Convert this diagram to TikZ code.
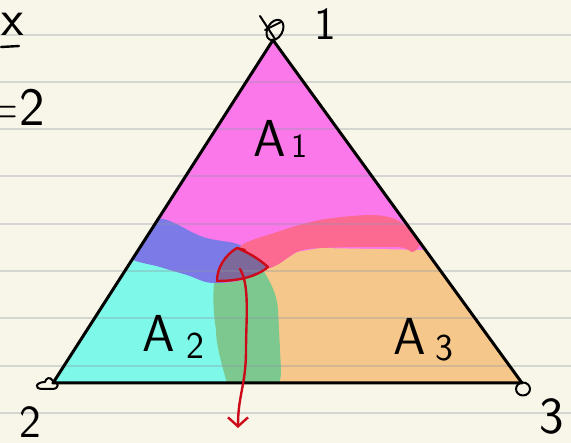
\documentclass[tikz,border=0pt]{standalone}
\usepackage{fontspec}
\usepackage{tikz}
\usetikzlibrary{arrows.meta}
\definecolor{paper}{RGB}{248, 246, 232}
\definecolor{ruleline}{RGB}{140, 150, 165}
\definecolor{pink1}{RGB}{251, 120, 234}
\definecolor{cyan1}{RGB}{126, 248, 232}
\definecolor{orange1}{RGB}{246, 199, 138}
\definecolor{blue1}{RGB}{124, 122, 230}
\definecolor{rose1}{RGB}{252, 106, 146}
\definecolor{green1}{RGB}{124, 200, 142}
\definecolor{overlap1}{RGB}{126, 106, 154}
\definecolor{pen1}{RGB}{205, 10, 25}
\tikzset{
  bigpen/.style={font=\sffamily\fontsize{52}{52}\selectfont, inner sep=0pt, text=black},
  cornerpen/.style={font=\sffamily\fontsize{46}{46}\selectfont, inner sep=0pt, text=black},
  smallpen/.style={font=\sffamily\fontsize{38}{38}\selectfont, inner sep=0pt, text=black},
  ink/.style={draw=black, line width=2.4pt, line cap=round, line join=round},
  redink/.style={draw=pen1, line width=2.4pt, line cap=round, line join=round}
}

\begin{document}
\begin{tikzpicture}[x=1pt, y=-1pt]
  \useasboundingbox (0, 0) rectangle (571, 443);
  \fill[paper] (0, 0) rectangle (571, 443);

  % Triangle corners
  \coordinate (top) at (273, 40);
  \coordinate (left) at (53, 383);
  \coordinate (right) at (522, 383);

  % Regions
  \fill[pink1] (top) -- (left) -- (right) -- cycle;
  \begin{scope}
    \clip (top) -- (left) -- (right) -- cycle;
    \fill[cyan1] (130, 258) -- (215, 280) -- (240, 300) -- (240, 383) -- (left) -- cycle;
    \fill[orange1] (430, 250) -- (320, 248) -- (297, 252) -- (277, 265) -- (262, 270) -- (262, 383) -- (right) -- cycle;

    % Bands between the regions
    \fill[blue1] plot[smooth cycle, tension=0.6] coordinates {(128, 256) (145, 230) (163, 219) (203, 237) (240, 245) (258, 262) (250, 277) (213, 283) (187, 275) (160, 267)};
    \fill[rose1] plot[smooth cycle, tension=0.5] coordinates {(240, 247) (277, 232) (320, 220) (370, 215) (397, 220) (420, 240) (413, 252) (397, 247) (320, 248) (297, 252) (277, 265) (262, 268)};
    \fill[green1] (214, 283) .. controls (230, 284) and (250, 280) .. (263, 270) .. controls (272, 285) and (277, 295) .. (278, 310) -- (281, 370) .. controls (281, 378) and (280, 382) .. (278, 383) -- (227, 383) .. controls (222, 365) and (216, 345) .. (216, 330) .. controls (213, 310) and (213, 295) .. (214, 283) -- cycle;

    % Part of the bands inside the red outline
    \fill[overlap1] (237, 248) .. controls (225, 255) and (217, 268) .. (217, 281) .. controls (235, 281) and (255, 278) .. (268, 267) .. controls (258, 258) and (247, 252) .. (237, 248) -- cycle;
  \end{scope}

  % Ruled paper lines
  \foreach \y in {35, 82, 129, 176, 224, 271, 318, 366, 413} {
    \draw[ruleline, opacity=0.33, line width=1.2pt] (0, \y) -- (571, \y);
  }

  % Triangle outline
  \draw[ink, line width=3pt] (top) -- (left) -- (right) -- cycle;

  % Corner marks
  \draw[ink, line width=2pt, rotate around={-30:(275, 30)}] (275, 30) ellipse (7.5 and 11);
  \draw[ink, line width=2pt] (260, 16) -- (275, 39) (265, 30) -- (281, 22);
  \draw[ink, line width=2pt] (53, 381) .. controls (50, 376) and (46, 378) .. (45, 382) .. controls (36, 382) and (33, 389) .. (43, 389) -- (52, 389) .. controls (60, 389) and (59, 382) .. (53, 381) -- cycle;
  \draw[ink, line width=2pt] (523, 389) ellipse (7 and 6.5);

  % Red outline and arrow
  \draw[redink] (245, 250) -- (237, 248) .. controls (225, 255) and (217, 268) .. (217, 281) .. controls (235, 281) and (255, 278) .. (268, 267) .. controls (258, 258) and (247, 252) .. (237, 248);
  \coordinate (arrowstart) at (240, 269);
  \coordinate (arrowend) at (238, 428);
  \draw[redink, -{Straight Barb[length=9pt, width=20pt]}] (arrowstart) .. controls (250, 285) and (246, 320) .. (246, 350) .. controls (246, 385) and (238, 395) .. (arrowend);

  % Labels
  \node[bigpen] (labelAone) at (270, 138) {A};
  \node[smallpen, font=\sffamily\fontsize{34}{34}\selectfont] (labelAonesub) at (299, 146) {1};
  \node[bigpen] (labelAtwo) at (159, 333) {A};
  \node[smallpen] (labelAtwosub) at (195, 346) {2};
  \node[bigpen] (labelAthree) at (410, 336) {A};
  \node[smallpen] (labelAthreesub) at (444, 348) {3};
  \node[cornerpen] (cornerone) at (325, 24) {1};
  \node[cornerpen] (cornertwo) at (30, 422) {2};
  \node[bigpen] (cornerthree) at (552, 416) {3};
  \node[bigpen] (valuex) at (13, 24) {x};
  \draw[ink] (1, 47) -- (19, 46);
  \node[bigpen, font=\sffamily\fontsize{54}{54}\selectfont, anchor=east] (valuetwo) at (45, 107) {=2};
\end{tikzpicture}
\end{document}
